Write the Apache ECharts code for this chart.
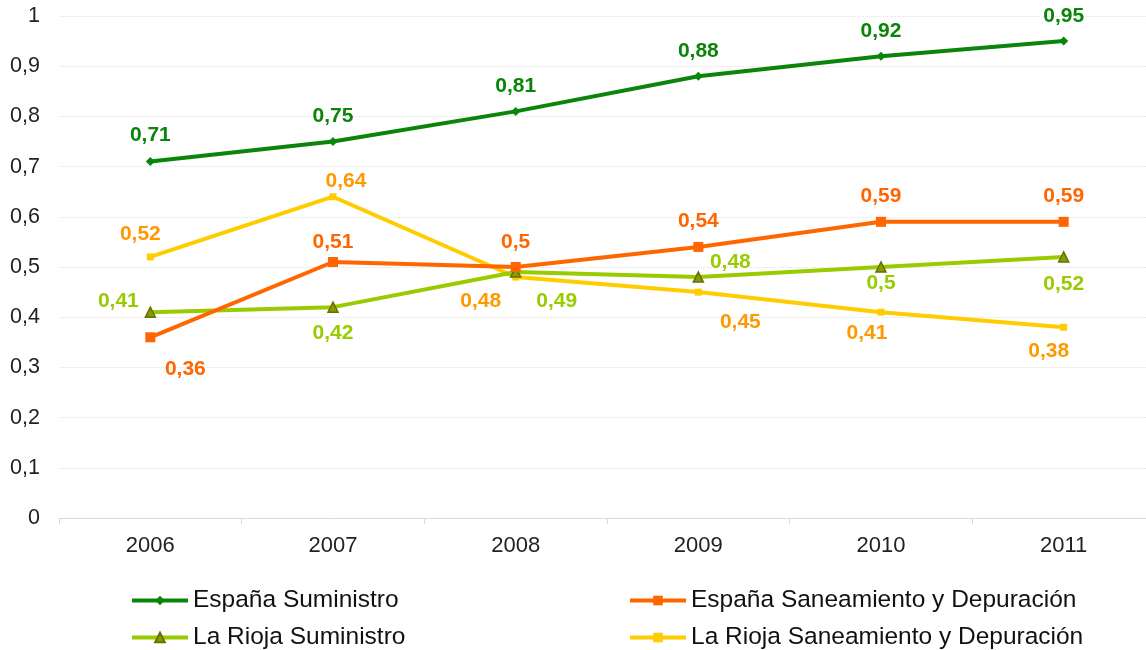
<!DOCTYPE html>
<html>
<head>
<meta charset="utf-8">
<script src="https://cdn.jsdelivr.net/npm/echarts@6/dist/echarts.min.js"></script>
<style>
  html, body { margin: 0; padding: 0; background: #fff; }
  #chart { width: 1146px; height: 650px; }
</style>
</head>
<body>
<div id="chart"></div>
<script>
// categorias (años)
const years = ["2006", "2007", "2008", "2009", "2010", "2011"];

// valores de cada serie
const espanaSuministro = [0.71, 0.75, 0.81, 0.88, 0.92, 0.95];
const espanaSaneamiento = [0.36, 0.51, 0.5, 0.54, 0.59, 0.59];
const riojaSuministro = [0.41, 0.42, 0.49, 0.48, 0.5, 0.52];
const riojaSaneamiento = [0.52, 0.64, 0.48, 0.45, 0.41, 0.38];

const seriesNames = [
  "España Suministro",
  "España Saneamiento y Depuración",
  "La Rioja Suministro",
  "La Rioja Saneamiento y Depuración"
];

// desplazamiento de cada etiqueta respecto a su punto [dx, dy]
const offEspSum = [[0, -26], [0, -25], [0, -25], [0, -25], [0, -25], [0, -25]];
const offEspSan = [[35, 32], [0, -20], [0, -25], [0, -26], [0, -26], [0, -26]];
const offRioSum = [[-32, -11], [0, 26], [41, 29], [32, -15], [0, 16], [0, 27]];
const offRioSan = [[-10, -23], [13, -16], [-35, 24], [42, 30], [-14, 21], [-15, 24]];

const FONT = "Liberation Sans, Arial, Helvetica, sans-serif";

const fmt = (v) => String(v).replace(".", ",");

function withLabels(values, offsets, color) {
  return values.map((v, i) => ({
    value: v,
    label: {
      show: true,
      position: "inside",
      offset: offsets[i],
      formatter: (p) => fmt(p.value),
      color: color,
      fontSize: 21,
      fontWeight: "bold",
      fontFamily: FONT
    }
  }));
}

const chart = echarts.init(document.getElementById("chart"));

const legendBase = {
  orient: "vertical",
  top: 588,
  padding: 0,
  itemGap: 12,
  itemWidth: 56,
  itemHeight: 12,
  lineStyle: { width: 4 },
  textStyle: { fontSize: 24.5, color: "#111", fontFamily: FONT }
};

const option = {
  backgroundColor: "#fff",
  animation: false,
  grid: {
    left: 59,
    top: 16,
    width: 1096,
    height: 502,
    containLabel: false,
    outerBoundsMode: "none"
  },
  legend: [
    Object.assign({}, legendBase, { data: [seriesNames[0], seriesNames[2]], left: 130 }),
    Object.assign({}, legendBase, { data: [seriesNames[1], seriesNames[3]], left: 628 })
  ],
  xAxis: {
    type: "category",
    data: years,
    boundaryGap: true,
    axisLine: { lineStyle: { color: "#d9d9d9", width: 1 } },
    axisTick: { show: true, length: 6, lineStyle: { color: "#d9d9d9" } },
    axisLabel: { color: "#222", fontSize: 22, fontFamily: FONT, margin: 17 },
    splitLine: { show: false }
  },
  yAxis: {
    type: "value",
    min: 0,
    max: 1,
    interval: 0.1,
    axisLine: { show: false },
    axisTick: { show: false },
    axisLabel: {
      color: "#222",
      fontSize: 21.5,
      fontFamily: FONT,
      margin: 19,
      formatter: (v) => fmt(Math.round(v * 10) / 10)
    },
    splitLine: { lineStyle: { color: "#e3e3e3", type: "dotted", width: 1 } }
  },
  series: [
    {
      name: seriesNames[0],
      type: "line",
      symbol: "diamond",
      symbolSize: 9,
      z: 5,
      lineStyle: { color: "#0a850a", width: 4 },
      itemStyle: { color: "#0a850a" },
      data: withLabels(espanaSuministro, offEspSum, "#0a850a")
    },
    {
      name: seriesNames[1],
      type: "line",
      symbol: "rect",
      symbolSize: 10,
      z: 4,
      lineStyle: { color: "#ff6600", width: 4 },
      itemStyle: { color: "#ff6600" },
      data: withLabels(espanaSaneamiento, offEspSan, "#ff6600")
    },
    {
      name: seriesNames[2],
      type: "line",
      symbol: "triangle",
      symbolSize: 10,
      z: 3,
      lineStyle: { color: "#99cc00", width: 4 },
      itemStyle: { color: "#8a9a00", borderColor: "#667000", borderWidth: 1.5 },
      data: withLabels(riojaSuministro, offRioSum, "#99cc00")
    },
    {
      name: seriesNames[3],
      type: "line",
      symbol: "rect",
      symbolSize: 7,
      z: 2,
      lineStyle: { color: "#ffcc00", width: 4 },
      itemStyle: { color: "#ffcc00" },
      data: withLabels(riojaSaneamiento, offRioSan, "#ff9900")
    }
  ]
};

chart.setOption(option);
</script>
</body>
</html>
